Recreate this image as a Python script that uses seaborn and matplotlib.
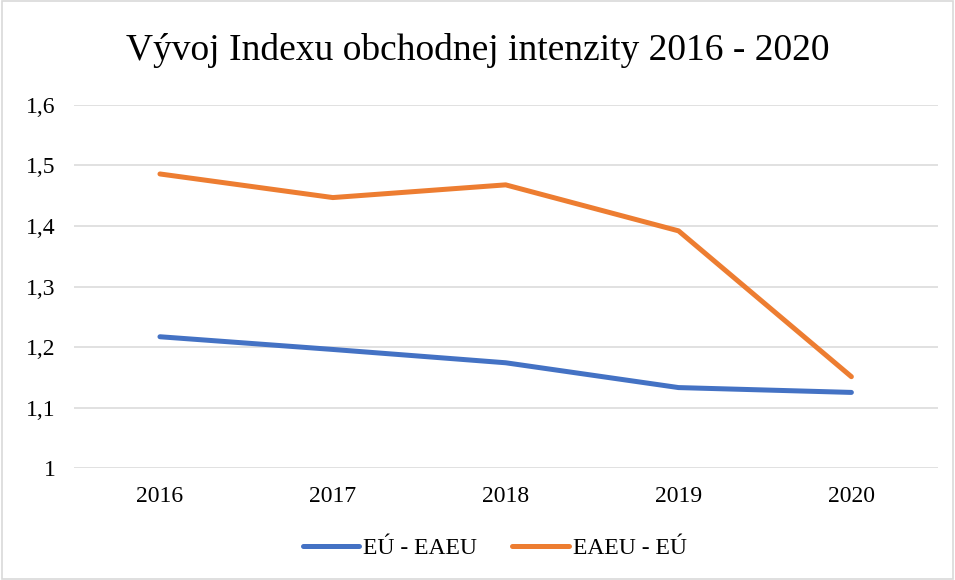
import matplotlib
matplotlib.use("Agg")
import matplotlib.pyplot as plt
import matplotlib.ticker as mticker
from matplotlib.patches import Rectangle
import seaborn as sns
import pandas as pd

years = ["2016", "2017", "2018", "2019", "2020"]
eu_eaeu = [1.217, 1.196, 1.174, 1.133, 1.125]
eaeu_eu = [1.486, 1.447, 1.468, 1.392, 1.151]
series_names = ["EÚ - EAEU", "EAEU - EÚ"]
title = "Vývoj Indexu obchodnej intenzity 2016 - 2020"

df = pd.DataFrame({
    "Rok": years * 2,
    "Hodnota": eu_eaeu + eaeu_eu,
    "Séria": [series_names[0]] * len(years) + [series_names[1]] * len(years),
})

sns.set_theme(style="white")
plt.rcParams["font.family"] = ["Liberation Serif", "DejaVu Serif"]
plt.rcParams["text.color"] = "#000000"

fig = plt.figure(figsize=(9.55, 5.8), dpi=100)
ax = fig.add_axes([0.077, 0.193, 0.905, 0.626])

sns.lineplot(data=df, x="Rok", y="Hodnota", hue="Séria", sort=False,
             palette=["#4472C4", "#ED7D31"], linewidth=3.6, ax=ax,
             solid_capstyle="round", legend=True)

ax.set_xlim(-0.5, 4.5)
ax.set_ylim(1.0, 1.6)
ax.yaxis.set_major_locator(mticker.MultipleLocator(0.1))
ax.yaxis.set_major_formatter(mticker.FuncFormatter(
    lambda v, p: ("%g" % round(v, 1)).replace(".", ",")))
ax.grid(axis="y", color="#D9D9D9", linewidth=1.1)
ax.set_axisbelow(True)
for s in ax.spines.values():
    s.set_visible(False)
ax.tick_params(axis="both", length=0, labelsize=17, colors="#000000")
ax.tick_params(axis="y", pad=13)
ax.tick_params(axis="x", pad=13)
ax.set_xlabel("")
ax.set_ylabel("")

fig.text(0.5, 1 - 50 / 580, title, ha="center", va="center", fontsize=27,
         color="#000000")

handles, labels = ax.get_legend_handles_labels()
ax.get_legend().remove()
leg = fig.legend(handles, labels, loc="center", bbox_to_anchor=(0.518, 0.055),
                 ncol=2, frameon=False, fontsize=17, handlelength=2.4,
                 handletextpad=0.15, columnspacing=1.5)
for t in leg.get_texts():
    t.set_color("#000000")

fig.patches.append(Rectangle((0.002, 0.002), 0.996, 0.996, transform=fig.transFigure,
                             fill=False, edgecolor="#D9D9D9", linewidth=1.2))

fig.savefig("out.png", dpi=100)
